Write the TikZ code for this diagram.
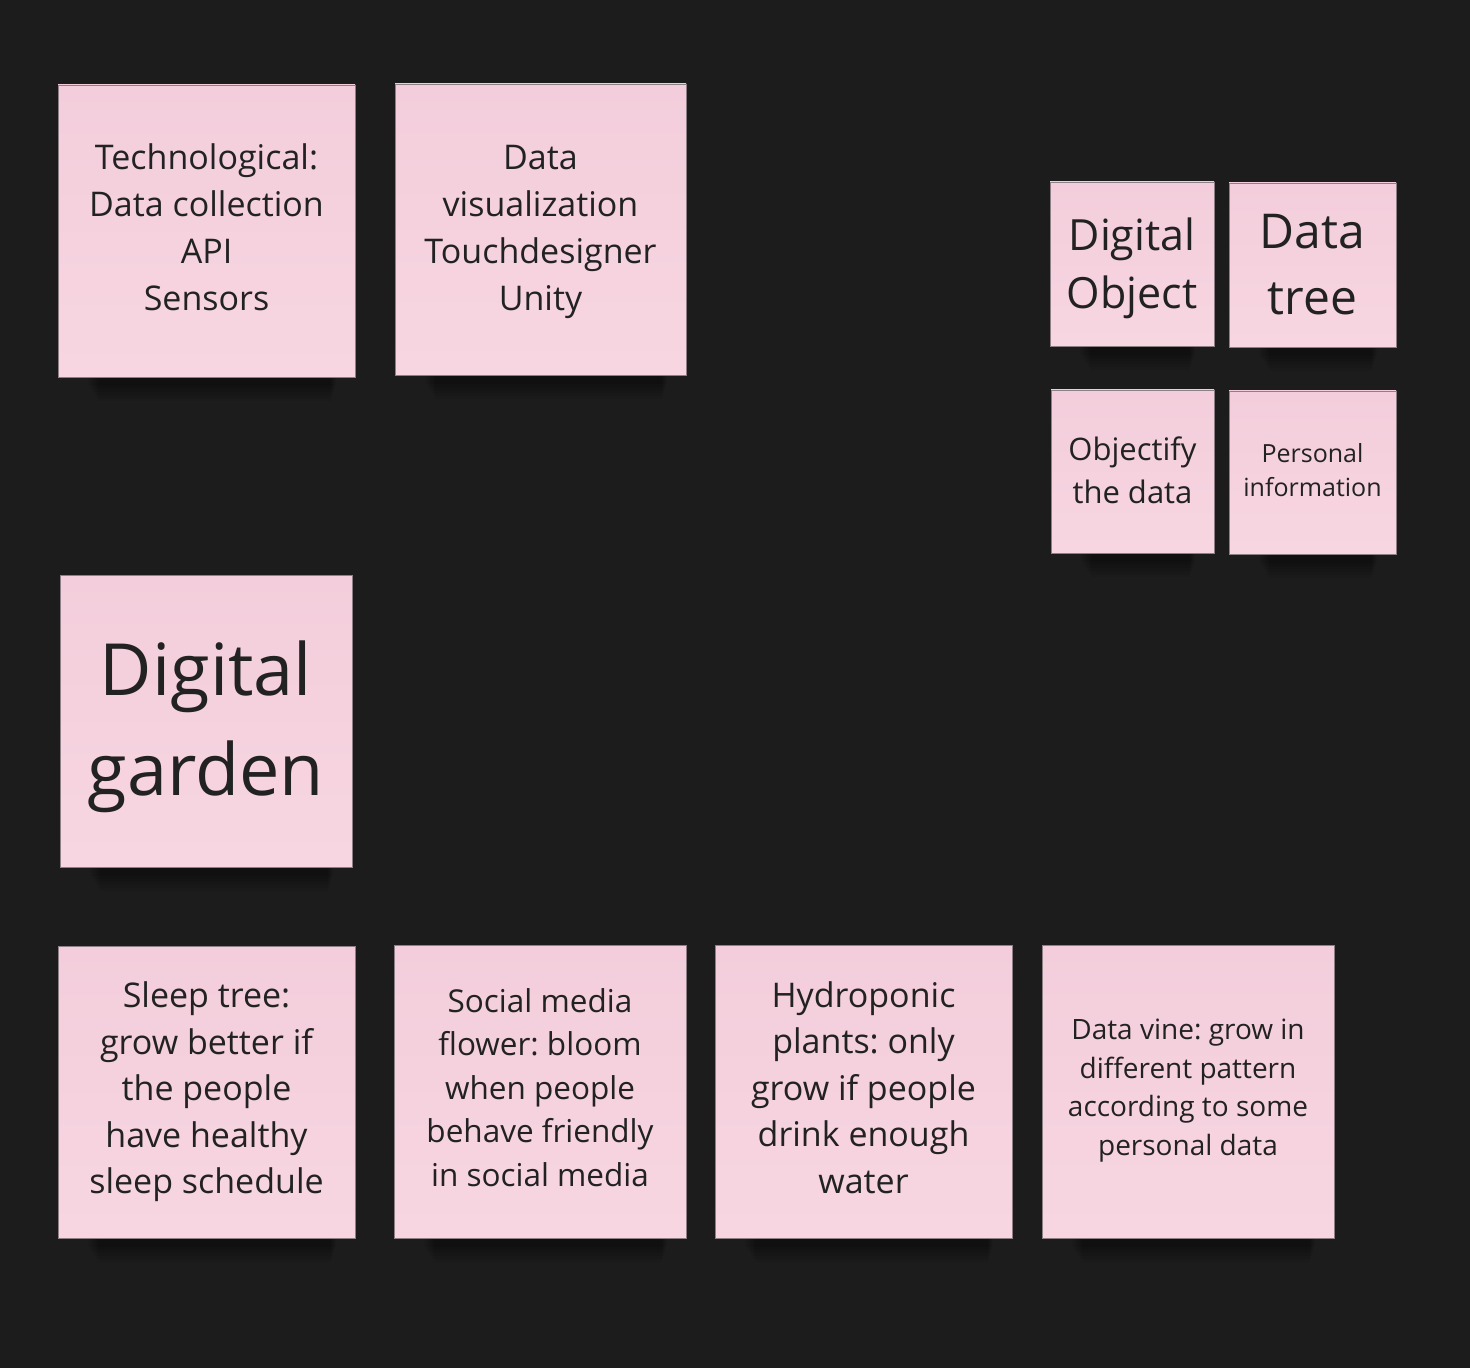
\documentclass[tikz,border=0pt]{standalone}
\usepackage{fontspec}
\setmainfont{Open Sans}
\frenchspacing
\usetikzlibrary{fit}
\definecolor{bg}{HTML}{1C1C1C}
\definecolor{notetop}{HTML}{F3CDDB}
\definecolor{notebot}{HTML}{F7D6E1}
\definecolor{notebd}{HTML}{8E7E85}
\definecolor{ink}{HTML}{222222}
\tikzset{
  notebox/.style={draw=notebd, line width=0.4pt, top color=notetop, bottom color=notebot,
    inner sep=0pt},
  notetext/.style={inner sep=0pt, align=center, text=ink},
}
% name, x1, y1, x2, y2, font, text, dy(px)
\newcommand\stickynote[8]{%
  \foreach \k in {1,...,6}{%
    \fill[black, opacity=0.06] ({#2+28+2*\k},{#5}) rectangle ({#4-18-\k},{#5+6+3*\k});
  }
  \node[notebox, fit={(#2,#3) (#4,#5)}] (#1) {};
  \node[notetext, font=#6, yshift={-(#8)*0.5pt}] (#1-text) at (#1.center) {#7};
}
\begin{document}
\begin{tikzpicture}[x=0.5pt, y=-0.5pt]
\fill[bg] (0,0) rectangle (1470,1368);
\useasboundingbox (0,0) rectangle (1470,1368);

\stickynote{tech}{58}{85}{355}{377}{\fontsize{17pt}{23.5pt}\selectfont}{Technological:\\Data collection\\API\\Sensors}{-4}
\stickynote{vis}{395}{84}{686}{375}{\fontsize{17pt}{23.5pt}\selectfont}{Data\\visualization\\Touchdesigner\\Unity}{2}
\stickynote{digobj}{1050}{182}{1214}{346}{\fontsize{21.5pt}{29pt}\selectfont}{Digital\\Object}{4}
\stickynote{datatree}{1229}{183}{1396}{347}{\fontsize{24pt}{33pt}\selectfont}{Data\\tree}{0}
\stickynote{objectify}{1051}{390}{1214}{553}{\fontsize{15.5pt}{21.5pt}\selectfont}{Objectify\\the data}{-1}
\stickynote{personal}{1229}{391}{1396}{554}{\fontsize{12.5pt}{17pt}\selectfont}{Personal\\information}{-2}
\stickynote{garden}{60}{575}{352}{867}{\fontsize{36pt}{50pt}\selectfont}{Digital\\garden}{6}
\stickynote{sleep}{58}{946}{355}{1238}{\fontsize{17pt}{23.25pt}\selectfont}{Sleep tree:\\grow better if\\the people\\have healthy\\sleep schedule}{0}
\stickynote{social}{394}{945}{686}{1238}{\fontsize{15.75pt}{21.75pt}\selectfont}{Social media\\flower: bloom\\when people\\behave friendly\\in social media}{-4}
\stickynote{hydro}{715}{945}{1012}{1238}{\fontsize{17pt}{23.25pt}\selectfont}{Hydroponic\\plants: only\\grow if people\\drink enough\\water}{-4}
\stickynote{vine}{1042}{945}{1334}{1238}{\fontsize{14pt}{19.25pt}\selectfont}{Data vine: grow in\\different pattern\\according to some\\personal data}{-1}
\end{tikzpicture}
\end{document}
